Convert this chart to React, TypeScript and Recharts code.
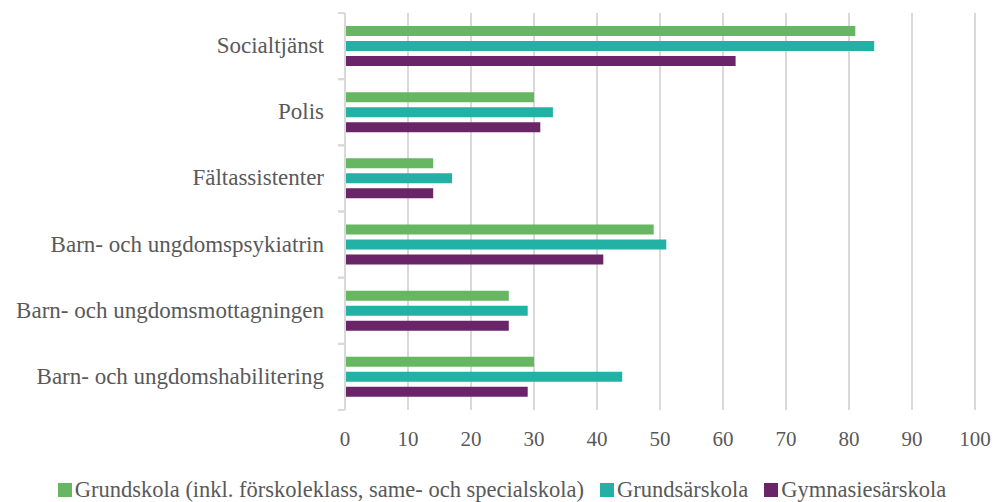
import React from "react";
import {
  BarChart,
  Bar,
  XAxis,
  YAxis,
  CartesianGrid,
  Legend,
} from "recharts";

const categories = [
  "Socialtjänst",
  "Polis",
  "Fältassistenter",
  "Barn- och ungdomspsykiatrin",
  "Barn- och ungdomsmottagningen",
  "Barn- och ungdomshabilitering",
];
const grundskola = [81, 30, 14, 49, 26, 30];
const grundsarskola = [84, 33, 17, 51, 29, 44];
const gymnasiesarskola = [62, 31, 14, 41, 26, 29];
const xTicks = [0, 10, 20, 30, 40, 50, 60, 70, 80, 90, 100];

const data = categories.map((name, i) => ({
  name,
  grundskola: grundskola[i],
  grundsarskola: grundsarskola[i],
  gymnasiesarskola: gymnasiesarskola[i],
}));

const FONT = "Liberation Serif";
const TEXT = "#595959";
const GRID = "#d9d9d9";

const CategoryTick = (props: any) => {
  const { x, y, payload } = props;
  const band = 66;
  return (
    <g>
      <line x1={x + 1} x2={x + 8} y1={y - band / 2} y2={y - band / 2} stroke={GRID} strokeWidth={2} />
      <line x1={x + 1} x2={x + 8} y1={y + band / 2} y2={y + band / 2} stroke={GRID} strokeWidth={2} />
      <text x={x - 13} y={y} dy={7} textAnchor="end" fill={TEXT} fontSize={23}>
        {payload.value}
      </text>
    </g>
  );
};

const XTick = (props: any) => {
  const { x, y, payload } = props;
  return (
    <text x={x} y={y} dy={18} textAnchor="middle" fill={TEXT} fontSize={21}>
      {payload.value}
    </text>
  );
};

const LegendContent = (props: any) => {
  const { payload } = props;
  return (
    <div
      style={{
        display: "flex",
        justifyContent: "center",
        paddingLeft: 29,
        paddingTop: 16,
        fontSize: 22.5,
        color: TEXT,
        lineHeight: "24px",
        whiteSpace: "nowrap",
      }}
    >
      {payload.map((entry: any, i: number) => (
        <div
          key={entry.value}
          style={{ display: "flex", alignItems: "center", marginLeft: i === 0 ? 0 : 16 }}
        >
          <span
            style={{
              display: "inline-block",
              width: 14,
              height: 14,
              background: entry.color,
              marginRight: 3,
            }}
          />
          <span>{entry.value}</span>
        </div>
      ))}
    </div>
  );
};

const App = () => {
  return (
    <div style={{ position: "absolute", left: 0, top: 0, background: "#fff", fontFamily: FONT }}>
      <BarChart
        width={995}
        height={502}
        data={data}
        layout="vertical"
        margin={{ top: 13, right: 20, left: 0, bottom: 0 }}
        barGap={5}
      >
        <CartesianGrid horizontal={false} stroke={GRID} strokeWidth={2} />
        <XAxis
          type="number"
          domain={[0, 100]}
          ticks={xTicks}
          axisLine={false}
          tickLine={false}
          tickMargin={12}
          height={52}
          tick={<XTick />}
        />
        <YAxis
          type="category"
          dataKey="name"
          width={345}
          axisLine={{ stroke: GRID, strokeWidth: 2 }}
          tickLine={false}
          tick={<CategoryTick />}
        />
        <Legend verticalAlign="bottom" height={40} content={<LegendContent />} />
        <Bar
          dataKey="grundskola"
          name="Grundskola (inkl. förskoleklass, same- och specialskola)"
          fill="#66b662"
          barSize={10}
          isAnimationActive={false}
        />
        <Bar
          dataKey="grundsarskola"
          name="Grundsärskola"
          fill="#22b1a4"
          barSize={10}
          isAnimationActive={false}
        />
        <Bar
          dataKey="gymnasiesarskola"
          name="Gymnasiesärskola"
          fill="#6a2568"
          barSize={10}
          isAnimationActive={false}
        />
      </BarChart>
    </div>
  );
};

export default App;
